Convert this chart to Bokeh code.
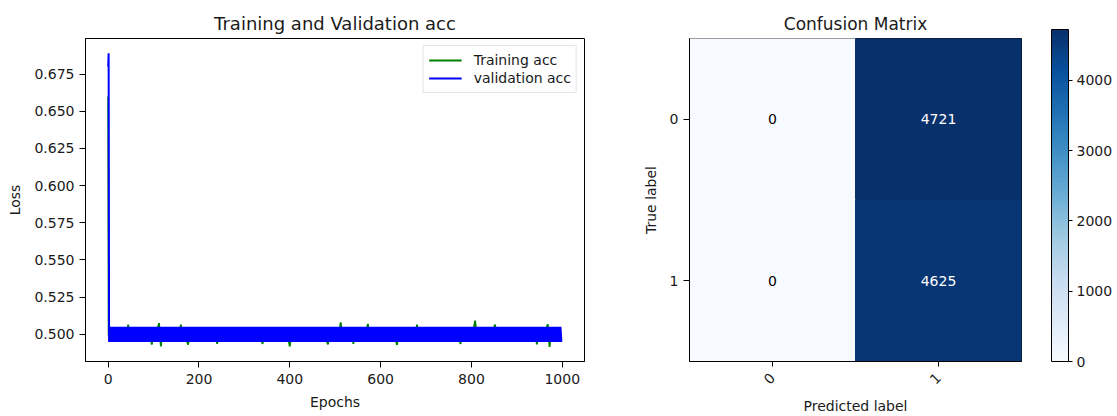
import math
from bokeh.plotting import figure
from bokeh.layouts import row
from bokeh.models import (Range1d, FixedTicker, PrintfTickFormatter, Legend,
                          ColumnDataSource, LinearColorMapper, ColorBar)
from bokeh.palettes import Blues256
from bokeh.transform import transform
from bokeh.core.properties import value
from bokeh.embed import file_html
from bokeh.resources import INLINE

FONT = "DejaVu Sans"
TXT = "#1a1a1a"

# ---------------- data: training accuracy (sampled every 4 epochs) ----------------
TRAIN_EPOCHS = [0, 1, 2] + list(range(4, 1000, 4))

TRAIN_ACC = [
    0.660, 0.500, 0.497,
    0.502, 0.498, 0.503, 0.497, 0.501, 0.499, 0.504, 0.496, 0.502, 0.498,
    0.5065, 0.497, 0.502, 0.499, 0.503, 0.497, 0.501, 0.498, 0.504, 0.497,
    0.502, 0.499, 0.503, 0.4930, 0.501, 0.498, 0.503, 0.5075, 0.4918, 0.502,
    0.497, 0.503, 0.499, 0.502, 0.496, 0.503, 0.498, 0.501, 0.497, 0.5065,
    0.498, 0.502, 0.497, 0.4930, 0.503, 0.499, 0.502, 0.497, 0.504, 0.498,
    0.501, 0.497, 0.503, 0.499, 0.502, 0.496, 0.503, 0.498, 0.502, 0.4935,
    0.503, 0.498, 0.501, 0.497, 0.504, 0.499, 0.502, 0.497, 0.503, 0.498,
    0.502, 0.497, 0.503, 0.499, 0.501, 0.498, 0.504, 0.496, 0.502, 0.499,
    0.503, 0.497, 0.502, 0.498, 0.4935, 0.503, 0.499, 0.502, 0.497, 0.503,
    0.498, 0.501, 0.497, 0.504, 0.499, 0.502, 0.496, 0.503, 0.498, 0.4918,
    0.502, 0.498, 0.503, 0.497, 0.501, 0.499, 0.504, 0.497, 0.502, 0.498,
    0.503, 0.497, 0.502, 0.499, 0.501, 0.496, 0.503, 0.498, 0.502, 0.497,
    0.4932, 0.502, 0.498, 0.503, 0.497, 0.501, 0.499, 0.5080, 0.498, 0.502,
    0.497, 0.503, 0.499, 0.502, 0.4935, 0.503, 0.498, 0.501, 0.497, 0.504,
    0.498, 0.502, 0.5070, 0.497, 0.503, 0.499, 0.501, 0.497, 0.502, 0.498,
    0.503, 0.497, 0.502, 0.499, 0.504, 0.496, 0.502, 0.498, 0.4928, 0.503,
    0.498, 0.502, 0.497, 0.503, 0.499, 0.501, 0.497, 0.504, 0.498, 0.5065,
    0.497, 0.502, 0.499, 0.503, 0.497, 0.501, 0.498, 0.503, 0.496, 0.502,
    0.499, 0.503, 0.497, 0.502, 0.498, 0.504, 0.497, 0.501, 0.499, 0.502,
    0.497, 0.503, 0.498, 0.4935, 0.502, 0.497, 0.503, 0.499, 0.501, 0.497,
    0.502, 0.5092, 0.498, 0.503, 0.497, 0.502, 0.499, 0.504, 0.496, 0.502,
    0.498, 0.503, 0.5065, 0.497, 0.502, 0.499, 0.503, 0.497, 0.501, 0.498,
    0.504, 0.497, 0.502, 0.499, 0.503, 0.496, 0.502, 0.498, 0.503, 0.497,
    0.501, 0.499, 0.503, 0.497, 0.502, 0.4932, 0.503, 0.498, 0.502, 0.497,
    0.503, 0.5068, 0.4915, 0.502, 0.498, 0.503, 0.497, 0.502, 0.499,
]

# ---------------- data: validation accuracy (sampled every 2 epochs) ----------------
# flips between 4721/9346 = 0.5051 and 4625/9346 = 0.4949
VAL_EPOCHS = [0, 1] + list(range(2, 1000, 2))

VAL_ACC = [
    0.680, 0.689,
    0.4949, 0.5051, 0.4949, 0.5051, 0.4949, 0.5051, 0.4949, 0.5051, 0.4949, 0.5051,  # 2-20
    0.4949, 0.5051, 0.4949, 0.5051, 0.4949, 0.5051, 0.4949, 0.5051, 0.4949, 0.5051,  # 22-40
    0.4949, 0.5051, 0.4949, 0.5051, 0.4949, 0.5051, 0.4949, 0.5051, 0.4949, 0.5051,  # 42-60
    0.4949, 0.5051, 0.4949, 0.5051, 0.4949, 0.5051, 0.4949, 0.5051, 0.4949, 0.5051,  # 62-80
    0.4949, 0.5051, 0.4949, 0.5051, 0.4949, 0.5051, 0.4949, 0.5051, 0.4949, 0.5051,  # 82-100
    0.4949, 0.5051, 0.4949, 0.5051, 0.4949, 0.5051, 0.4949, 0.5051, 0.4949, 0.5051,  # 102-120
    0.4949, 0.5051, 0.4949, 0.5051, 0.4949, 0.5051, 0.4949, 0.5051, 0.4949, 0.5051,  # 122-140
    0.4949, 0.5051, 0.4949, 0.5051, 0.4949, 0.5051, 0.4949, 0.5051, 0.4949, 0.5051,  # 142-160
    0.4949, 0.5051, 0.4949, 0.5051, 0.4949, 0.5051, 0.4949, 0.5051, 0.4949, 0.5051,  # 162-180
    0.4949, 0.5051, 0.4949, 0.5051, 0.4949, 0.5051, 0.4949, 0.5051, 0.4949, 0.5051,  # 182-200
    0.4949, 0.5051, 0.4949, 0.5051, 0.4949, 0.5051, 0.4949, 0.5051, 0.4949, 0.5051,  # 202-220
    0.4949, 0.5051, 0.4949, 0.5051, 0.4949, 0.5051, 0.4949, 0.5051, 0.4949, 0.5051,  # 222-240
    0.4949, 0.5051, 0.4949, 0.5051, 0.4949, 0.5051, 0.4949, 0.5051, 0.4949, 0.5051,  # 242-260
    0.4949, 0.5051, 0.4949, 0.5051, 0.4949, 0.5051, 0.4949, 0.5051, 0.4949, 0.5051,  # 262-280
    0.4949, 0.5051, 0.4949, 0.5051, 0.4949, 0.5051, 0.4949, 0.5051, 0.4949, 0.5051,  # 282-300
    0.4949, 0.5051, 0.4949, 0.5051, 0.4949, 0.5051, 0.4949, 0.5051, 0.4949, 0.5051,  # 302-320
    0.4949, 0.5051, 0.4949, 0.5051, 0.4949, 0.5051, 0.4949, 0.5051, 0.4949, 0.5051,  # 322-340
    0.4949, 0.5051, 0.4949, 0.5051, 0.4949, 0.5051, 0.4949, 0.5051, 0.4949, 0.5051,  # 342-360
    0.4949, 0.5051, 0.4949, 0.5051, 0.4949, 0.5051, 0.4949, 0.5051, 0.4949, 0.5051,  # 362-380
    0.4949, 0.5051, 0.4949, 0.5051, 0.4949, 0.5051, 0.4949, 0.5051, 0.4949, 0.5051,  # 382-400
    0.4949, 0.5051, 0.4949, 0.5051, 0.4949, 0.5051, 0.4949, 0.5051, 0.4949, 0.5051,  # 402-420
    0.4949, 0.5051, 0.4949, 0.5051, 0.4949, 0.5051, 0.4949, 0.5051, 0.4949, 0.5051,  # 422-440
    0.4949, 0.5051, 0.4949, 0.5051, 0.4949, 0.5051, 0.4949, 0.5051, 0.4949, 0.5051,  # 442-460
    0.4949, 0.5051, 0.4949, 0.5051, 0.4949, 0.5051, 0.4949, 0.5051, 0.4949, 0.5051,  # 462-480
    0.4949, 0.5051, 0.4949, 0.5051, 0.4949, 0.5051, 0.4949, 0.5051, 0.4949, 0.5051,  # 482-500
    0.4949, 0.5051, 0.4949, 0.5051, 0.4949, 0.5051, 0.4949, 0.5051, 0.4949, 0.5051,  # 502-520
    0.4949, 0.5051, 0.4949, 0.5051, 0.4949, 0.5051, 0.4949, 0.5051, 0.4949, 0.5051,  # 522-540
    0.4949, 0.5051, 0.4949, 0.5051, 0.4949, 0.5051, 0.4949, 0.5051, 0.4949, 0.5051,  # 542-560
    0.4949, 0.5051, 0.4949, 0.5051, 0.4949, 0.5051, 0.4949, 0.5051, 0.4949, 0.5051,  # 562-580
    0.4949, 0.5051, 0.4949, 0.5051, 0.4949, 0.5051, 0.4949, 0.5051, 0.4949, 0.5051,  # 582-600
    0.4949, 0.5051, 0.4949, 0.5051, 0.4949, 0.5051, 0.4949, 0.5051, 0.4949, 0.5051,  # 602-620
    0.4949, 0.5051, 0.4949, 0.5051, 0.4949, 0.5051, 0.4949, 0.5051, 0.4949, 0.5051,  # 622-640
    0.4949, 0.5051, 0.4949, 0.5051, 0.4949, 0.5051, 0.4949, 0.5051, 0.4949, 0.5051,  # 642-660
    0.4949, 0.5051, 0.4949, 0.5051, 0.4949, 0.5051, 0.4949, 0.5051, 0.4949, 0.5051,  # 662-680
    0.4949, 0.5051, 0.4949, 0.5051, 0.4949, 0.5051, 0.4949, 0.5051, 0.4949, 0.5051,  # 682-700
    0.4949, 0.5051, 0.4949, 0.5051, 0.4949, 0.5051, 0.4949, 0.5051, 0.4949, 0.5051,  # 702-720
    0.4949, 0.5051, 0.4949, 0.5051, 0.4949, 0.5051, 0.4949, 0.5051, 0.4949, 0.5051,  # 722-740
    0.4949, 0.5051, 0.4949, 0.5051, 0.4949, 0.5051, 0.4949, 0.5051, 0.4949, 0.5051,  # 742-760
    0.4949, 0.5051, 0.4949, 0.5051, 0.4949, 0.5051, 0.4949, 0.5051, 0.4949, 0.5051,  # 762-780
    0.4949, 0.5051, 0.4949, 0.5051, 0.4949, 0.5051, 0.4949, 0.5051, 0.4949, 0.5051,  # 782-800
    0.4949, 0.5051, 0.4949, 0.5051, 0.4949, 0.5051, 0.4949, 0.5051, 0.4949, 0.5051,  # 802-820
    0.4949, 0.5051, 0.4949, 0.5051, 0.4949, 0.5051, 0.4949, 0.5051, 0.4949, 0.5051,  # 822-840
    0.4949, 0.5051, 0.4949, 0.5051, 0.4949, 0.5051, 0.4949, 0.5051, 0.4949, 0.5051,  # 842-860
    0.4949, 0.5051, 0.4949, 0.5051, 0.4949, 0.5051, 0.4949, 0.5051, 0.4949, 0.5051,  # 862-880
    0.4949, 0.5051, 0.4949, 0.5051, 0.4949, 0.5051, 0.4949, 0.5051, 0.4949, 0.5051,  # 882-900
    0.4949, 0.5051, 0.4949, 0.5051, 0.4949, 0.5051, 0.4949, 0.5051, 0.4949, 0.5051,  # 902-920
    0.4949, 0.5051, 0.4949, 0.5051, 0.4949, 0.5051, 0.4949, 0.5051, 0.4949, 0.5051,  # 922-940
    0.4949, 0.5051, 0.4949, 0.5051, 0.4949, 0.5051, 0.4949, 0.5051, 0.4949, 0.5051,  # 942-960
    0.4949, 0.5051, 0.4949, 0.5051, 0.4949, 0.5051, 0.4949, 0.5051, 0.4949, 0.5051,  # 962-980
    0.4949, 0.5051, 0.4949, 0.5051, 0.4949, 0.5051, 0.4949, 0.5051, 0.4949,          # 982-998
]

ACC_X_TICKS = [0, 200, 400, 600, 800, 1000]
ACC_Y_TICKS = [0.500, 0.525, 0.550, 0.575, 0.600, 0.625, 0.650, 0.675]

# ---------------- data: confusion matrix ----------------
CM_CLASSES = ["0", "1"]
CM_VALUES = [[0, 4721],
             [0, 4625]]
CB_TICKS = [0, 1000, 2000, 3000, 4000]

if len(TRAIN_EPOCHS) != len(TRAIN_ACC) or len(VAL_EPOCHS) != len(VAL_ACC):
    raise SystemExit(f"length mismatch {len(TRAIN_EPOCHS)} {len(TRAIN_ACC)} "
                     f"{len(VAL_EPOCHS)} {len(VAL_ACC)}")


def style_axes(p, title_size):
    for ax in p.xaxis + p.yaxis:
        ax.axis_line_color = "black"
        ax.major_tick_line_color = "black"
        ax.minor_tick_line_color = None
        ax.major_tick_in = 0
        ax.major_tick_out = 6
        ax.major_label_standoff = 5
        ax.major_label_text_font = FONT
        ax.major_label_text_font_size = "14px"
        ax.major_label_text_color = TXT
        ax.axis_label_text_font = FONT
        ax.axis_label_text_font_size = "14px"
        ax.axis_label_text_font_style = "normal"
        ax.axis_label_text_color = TXT
    p.xgrid.visible = False
    p.ygrid.visible = False
    p.outline_line_color = "black"
    p.outline_line_alpha = 1
    p.title.align = "center"
    p.title.text_font = FONT
    p.title.text_font_size = title_size
    p.title.text_font_style = "normal"
    p.title.text_color = TXT


# ---------------- left: accuracy curves ----------------
p1 = figure(width=608, height=416,
            x_range=Range1d(-49.95, 1048.95), y_range=Range1d(0.4817, 0.6990),
            output_backend="svg", toolbar_location=None,
            title="Training and Validation acc",
            min_border_left=85, min_border_right=24,
            min_border_top=38, min_border_bottom=54)
rt = p1.line(TRAIN_EPOCHS, TRAIN_ACC, line_color="green", line_width=1.8)
rv = p1.line(VAL_EPOCHS, VAL_ACC, line_color="blue", line_width=2.0)
style_axes(p1, "18px")
p1.xaxis.ticker = FixedTicker(ticks=ACC_X_TICKS)
p1.yaxis.ticker = FixedTicker(ticks=ACC_Y_TICKS)
p1.yaxis.formatter = PrintfTickFormatter(format="%.3f")
p1.xaxis.axis_label = "Epochs"
p1.yaxis.axis_label = "Loss"
p1.xaxis.major_label_standoff = 6
p1.xaxis.axis_label_standoff = 7
p1.yaxis.axis_label_standoff = 8

legend = Legend(items=[("Training acc", [rt]), ("validation acc", [rv])],
                location="top_right", margin=7, padding=5, spacing=0,
                glyph_width=33, glyph_height=18, label_height=18,
                label_standoff=12,
                label_text_font=FONT, label_text_font_size="14px",
                label_text_color=TXT,
                border_line_color="#cccccc", border_line_width=1,
                background_fill_color="white", background_fill_alpha=0.9)
p1.add_layout(legend)

# ---------------- right: confusion matrix ----------------
n = len(CM_CLASSES)
vmax = max(max(r) for r in CM_VALUES)
xs, ys, vals, labels, tcolors = [], [], [], [], []
for i in range(n):
    for j in range(n):
        v = CM_VALUES[i][j]
        xs.append(j)
        ys.append(i)
        vals.append(v)
        labels.append(str(v))
        tcolors.append("white" if v > vmax / 2 else "black")
src = ColumnDataSource(dict(x=xs, y=ys, value=vals, label=labels, tcolor=tcolors))

mapper = LinearColorMapper(palette=list(reversed(Blues256)), low=0, high=vmax)

p2 = figure(width=509, height=416,
            x_range=Range1d(-0.5, n - 0.5), y_range=Range1d(n - 0.5, -0.5),
            output_backend="svg", toolbar_location=None,
            title="Confusion Matrix",
            min_border_left=81, min_border_right=96,
            min_border_top=38, min_border_bottom=46)
p2.rect(x="x", y="y", width=1, height=1, source=src,
        fill_color=transform("value", mapper),
        line_color=transform("value", mapper), line_width=1)
p2.text(x="x", y="y", text="label", source=src, text_color="tcolor",
        text_align="center", text_baseline="middle",
        text_font=value(FONT), text_font_size="14px")
style_axes(p2, "17px")
p2.xaxis.ticker = FixedTicker(ticks=list(range(n)))
p2.yaxis.ticker = FixedTicker(ticks=list(range(n)))
p2.xaxis.major_label_overrides = {i: c for i, c in enumerate(CM_CLASSES)}
p2.yaxis.major_label_overrides = {i: c for i, c in enumerate(CM_CLASSES)}
p2.xaxis.major_label_orientation = math.pi / 4
p2.xaxis.major_tick_out = 5
p2.xaxis.major_label_standoff = 9
p2.xaxis.axis_label = "Predicted label"
p2.yaxis.axis_label = "True label"
p2.xaxis.axis_label_standoff = 6
p2.yaxis.axis_label_standoff = 8

cb = ColorBar(color_mapper=mapper, ticker=FixedTicker(ticks=CB_TICKS),
              width=17, height=332, padding=0, margin=0, location=(30, 0),
              major_tick_in=0, major_tick_out=4,
              major_tick_line_color="black", minor_tick_line_color=None,
              bar_line_color="black", bar_line_width=1,
              label_standoff=4,
              major_label_text_font=FONT, major_label_text_font_size="14px",
              major_label_text_color=TXT,
              border_line_color=None, background_fill_color=None)
p2.add_layout(cb, "right")

layout = row(p1, p2)
open("out.html", "w").write(file_html(layout, INLINE))
